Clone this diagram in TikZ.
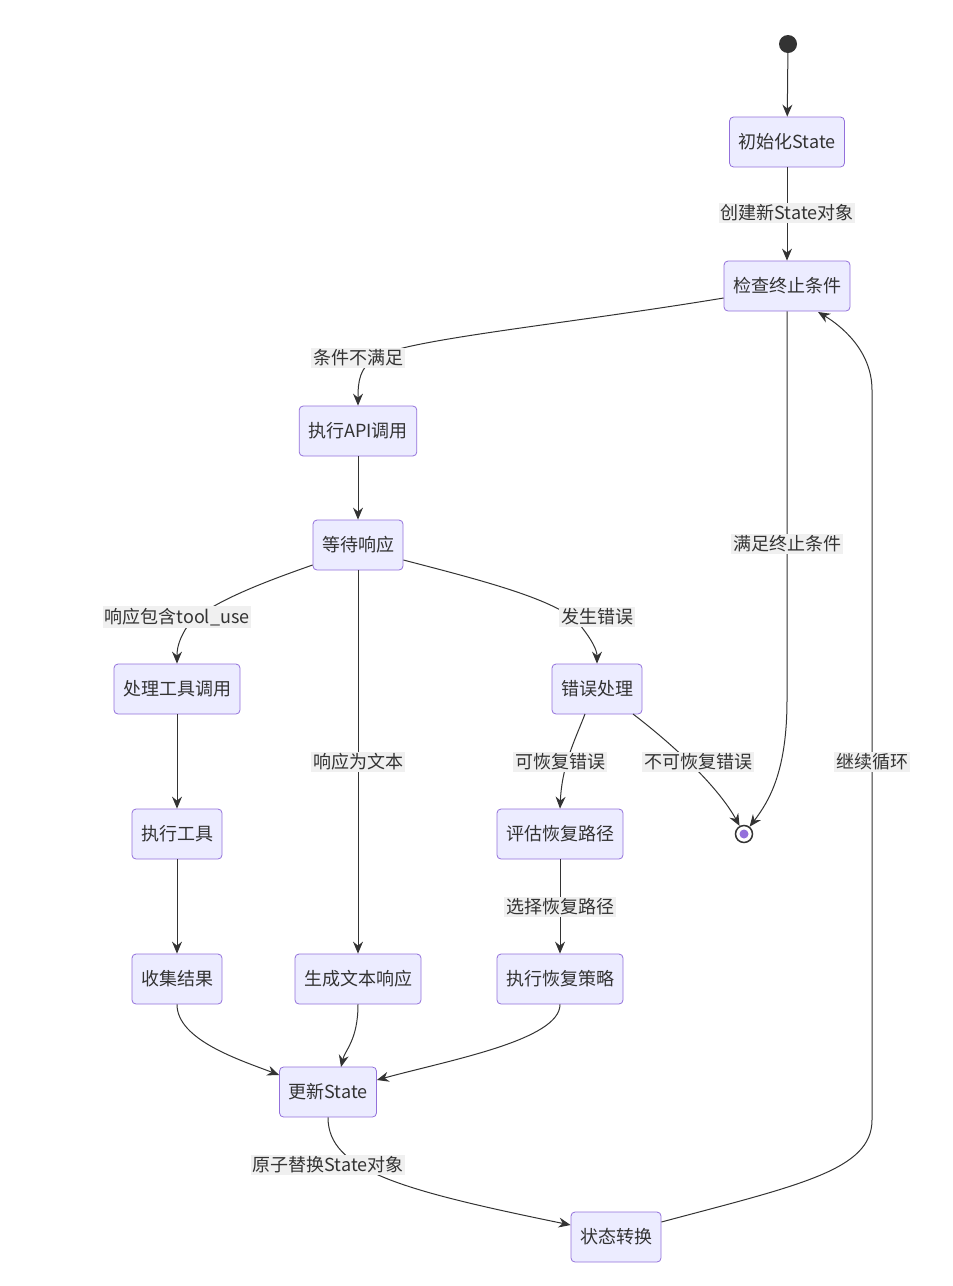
\documentclass[tikz,border=0pt]{standalone}
\usepackage{fontspec}
\setmainfont{Noto Sans CJK SC}
\usetikzlibrary{arrows.meta}
\definecolor{nf}{HTML}{ECECFF}
\definecolor{nb}{HTML}{9370DB}
\definecolor{tx}{HTML}{333333}
\begin{document}
\begin{tikzpicture}[x=1pt,y=-1pt,
 st/.style={draw=nb,fill=nf,rounded corners=4pt,minimum height=50pt,inner xsep=9pt,font=\fontsize{18}{20}\selectfont,text=tx,line width=0.8pt},
 lb/.style={fill=gray!12,inner sep=2pt,font=\fontsize{18}{20}\selectfont,text=tx},
 ar/.style={draw=tx,line width=1pt,-{Stealth[length=12pt,width=10pt,inset=4pt]}}]
\useasboundingbox (0,0) rectangle (953,1286);
\node[circle,fill=tx,minimum size=18pt,inner sep=0] (s) at (788,44) {};
\node[st] (init) at (787,142) {初始化State};
\node[st] (chk) at (787,286) {检查终止条件};
\node[st] (api) at (358,431) {执行API调用};
\node[st] (wait) at (358,545) {等待响应};
\node[st] (tool) at (177,689) {处理工具调用};
\node[st] (err) at (597,689) {错误处理};
\node[st] (exec) at (177,834) {执行工具};
\node[st] (eval) at (560,834) {评估恢复路径};
\node[circle,draw=tx,line width=1.5pt,fill=white,minimum size=17pt,inner sep=0] (e) at (744,834) {};
\node[circle,fill=nb,minimum size=9pt,inner sep=0] at (744,834) {};
\node[st] (coll) at (177,979) {收集结果};
\node[st] (gen) at (358,979) {生成文本响应};
\node[st] (rec) at (560,979) {执行恢复策略};
\node[st] (upd) at (328,1092) {更新State};
\node[st] (trans) at (616,1237) {状态转换};
\draw[ar] (s) -- (init);
\draw[ar] (init) -- (chk);
\draw[ar] (chk.west |- 0,298) .. controls (560,325) and (400,340) .. (375,358) .. controls (360,368) and (358,380) .. (api.north);
\draw[ar] (chk.south) -- (787,700) .. controls (787,770) and (770,800) .. (e);
\draw[ar] (api) -- (wait);
\draw[ar] (wait.west |- 0,565) .. controls (270,580) and (200,605) .. (185,630) .. controls (178,642) and (177,650) .. (tool.north);
\draw[ar] (wait) -- (gen);
\draw[ar] (wait.east |- 0,560) .. controls (480,580) and (560,600) .. (580,625) .. controls (592,640) and (597,650) .. (err.north);
\draw[ar] (tool) -- (exec);
\draw[ar] (585,714) .. controls (575,740) and (562,765) .. (eval.north);
\draw[ar] (633,714) .. controls (680,750) and (720,790) .. (e);
\draw[ar] (exec) -- (coll);
\draw[ar] (eval) -- (rec);
\draw[ar] (coll.south) .. controls (177,1040) and (240,1060) .. (upd.west |- 0,1075);
\draw[ar] (gen.south) .. controls (358,1040) and (345,1050) .. (341,1067);
\draw[ar] (rec.south) .. controls (560,1040) and (450,1060) .. (upd.east |- 0,1080);
\draw[ar] (upd.south) .. controls (328,1170) and (400,1190) .. (trans.west |- 0,1225);
\draw[ar] (trans.east |- 0,1222) .. controls (800,1185) and (872,1170) .. (872,1120) -- (872,390) .. controls (872,350) and (840,325) .. (818,312);
\node[lb] at (787,213) {创建新State对象};
\node[lb] at (358,358) {条件不满足};
\node[lb] at (787,544) {满足终止条件};
\node[lb] at (177,617) {响应包含tool\_use};
\node[lb] at (358,762) {响应为文本};
\node[lb] at (597,617) {发生错误};
\node[lb] at (560,762) {可恢复错误};
\node[lb] at (698,762) {不可恢复错误};
\node[lb] at (872,762) {继续循环};
\node[lb] at (560,907) {选择恢复路径};
\node[lb] at (328,1165) {原子替换State对象};
\end{tikzpicture}
\end{document}
